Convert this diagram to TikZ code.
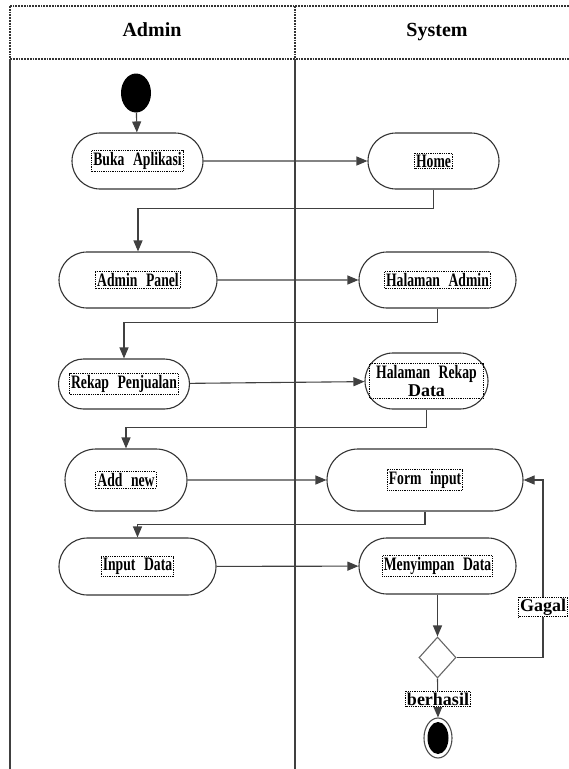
\documentclass[tikz,border=0pt]{standalone}
\usepackage{fontspec}
\setmainfont{Liberation Serif}
\newfontfamily\actfont[FakeStretch=0.72,WordSpace=2.5]{Liberation Serif}
\usetikzlibrary{arrows.meta,shapes.misc,shapes.geometric}

\begin{document}
\begin{tikzpicture}[x=1pt,y=-1pt,
  act/.style={draw=black!80, line width=1.1pt, rounded rectangle, inner sep=0pt},
  lbl/.style={draw, densely dotted, line width=0.8pt, inner sep=1.5pt,
    font=\actfont\bfseries\fontsize{19}{18}\selectfont},
  tag/.style={draw, densely dotted, line width=0.8pt, inner sep=1.5pt, fill=white,
    font=\bfseries\fontsize{18}{20}\selectfont},
  head/.style={font=\bfseries\fontsize{20}{24}\selectfont, anchor=base},
  hdr/.style={draw=black!80, line width=1.8pt, densely dotted},
  lane/.style={draw=black!75, line width=1.4pt},
  flow/.style={draw=black!75, line width=1.1pt, -{Triangle[length=11pt,width=9pt]}}]

\useasboundingbox (0,0) rectangle (569,769);

% swimlanes
\draw[hdr] (10,6) rectangle (585,59);
\draw[hdr] (295,6) -- (295,59);
\draw[lane] (10,59) -- (10,775);
\draw[lane] (295,59) -- (295,775);
\node[head] (admin) at (152,36) {Admin};
\node[head] (system) at (437,36) {System};

% start
\node[ellipse, fill=black, minimum width=30pt, minimum height=39pt, inner sep=0pt] (start) at (136,93) {};

% admin lane
\node[act, minimum width=131pt, minimum height=56pt, label={[lbl]center:Buka Aplikasi}] (buka) at (137.5,161) {};
\node[act, minimum width=158pt, minimum height=56pt, label={[lbl]center:Admin Panel}] (panel) at (138,280) {};
\node[act, minimum width=131pt, minimum height=50pt, label={[lbl]center:Rekap Penjualan}] (rekap) at (124,384) {};
\node[act, minimum width=122pt, minimum height=62pt, label={[lbl]center:Add new}] (addnew) at (126,480) {};
\node[act, minimum width=157pt, minimum height=57pt, label={[lbl]center:Input Data}] (input) at (137.5,566.5) {};

% system lane
\node[act, minimum width=131pt, minimum height=56pt, label={[lbl]center:Home}] (home) at (433.5,161) {};
\node[act, minimum width=157pt, minimum height=56pt, label={[lbl]center:Halaman Admin}] (hadmin) at (437.5,280) {};
\node[act, minimum width=123pt, minimum height=56pt,
  label={[lbl, align=center, minimum width=114pt]center:{Halaman Rekap\\{\normalfont\bfseries\fontsize{18}{19}\selectfont Data}}}] (hrekap) at (426.5,381) {};
\node[act, minimum width=196pt, minimum height=62pt, label={[lbl]center:Form input}] (form) at (425,480) {};
\node[act, minimum width=157pt, minimum height=56pt, label={[lbl]center:Menyimpan Data}] (simpan) at (437.5,566) {};
\node[diamond, draw=black!60, line width=1.1pt, minimum width=37pt, minimum height=41pt, inner sep=0pt] (cek) at (437.5,657.5) {};

% end
\node[ellipse, draw=black!70, line width=1.1pt, minimum width=28pt, minimum height=40pt, inner sep=0pt] (finish) at (438,738) {};
\node[ellipse, fill=black, minimum width=21pt, minimum height=32pt, inner sep=0pt] (finishin) at (finish) {};

\coordinate (loop) at (543,480);

\draw[flow] (start) -- (buka);
\draw[flow] (buka) -- (home);
\draw[flow] (home.south) -- ++(0,19) -| (panel.north);
\draw[flow] (panel) -- (hadmin);
\draw[flow] (hadmin.south) -- ++(0,14) -| (rekap.north);
\draw[flow] (rekap) -- (hrekap);
\draw[flow] (hrekap.south) -- ++(0,18) -| (addnew.north);
\draw[flow] (addnew) -- (form);
\draw[flow] (form.south) -- ++(0,13) -| (input.north);
\draw[flow] (input) -- (simpan);
\draw[flow] (simpan) -- (cek);
\draw[flow] (cek.east) -| (loop) -- (form.east);
\draw[flow] (cek.south) -- (finish.north);

\node[tag] (gagal) at (543,607) {Gagal};
\node[tag] (berhasil) at (438,699) {berhasil};

\end{tikzpicture}
\end{document}
